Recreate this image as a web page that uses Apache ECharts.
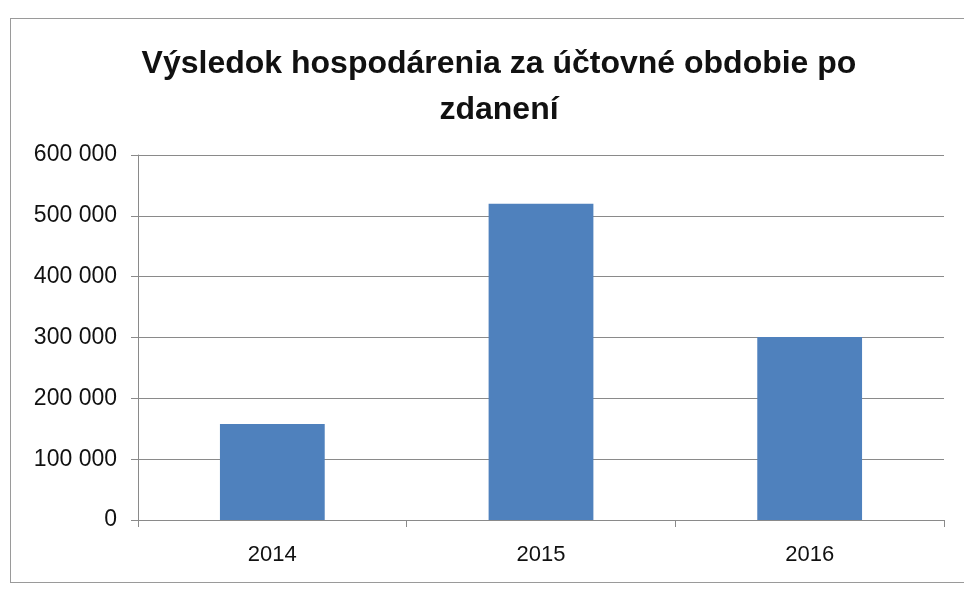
<!DOCTYPE html>
<html>
<head>
<meta charset="utf-8">
<script src="https://cdn.jsdelivr.net/npm/echarts@6/dist/echarts.min.js"></script>
<style>
html,body{margin:0;padding:0;background:#fff;width:964px;height:593px;overflow:hidden;}
#frame{position:absolute;left:10px;top:18px;width:980px;height:565px;border:1px solid #9a9a9a;box-sizing:border-box;}
#chart{position:absolute;left:0;top:0;width:964px;height:593px;}
</style>
</head>
<body>
<div id="frame"></div>
<div id="chart"></div>
<script>
const titleText = "Výsledok hospodárenia za účtovné obdobie po\nzdanení";
const categories = ["2014", "2015", "2016"];
const values = [158000, 520000, 301000];
const yMin = 0, yMax = 600000, yStep = 100000;

const chart = echarts.init(document.getElementById('chart'));
chart.setOption({
  backgroundColor: 'transparent',
  animation: false,
  title: {
    text: titleText,
    left: 494, top: 36, textAlign: 'center',
    textStyle: {fontFamily: 'Liberation Sans', fontWeight: 'bold', fontSize: 32, color: '#111', lineHeight: 46}
  },
  grid: {left: 138, right: 20, top: 155, bottom: 73, containLabel: false},
  xAxis: {
    type: 'category', data: categories, boundaryGap: true,
    axisLine: {show: true, lineStyle: {color: '#8a8a8a', width: 1}},
    axisTick: {show: true, alignWithLabel: false, length: 7, inside: false, lineStyle: {color: '#8a8a8a'}},
    axisLabel: {margin: 24, fontFamily: 'Liberation Sans', fontSize: 22, color: '#111'}
  },
  yAxis: {
    type: 'value', min: yMin, max: yMax, interval: yStep,
    axisLine: {show: true, lineStyle: {color: '#8a8a8a', width: 1}},
    axisTick: {show: true, length: 7, lineStyle: {color: '#8a8a8a'}},
    splitLine: {show: true, lineStyle: {color: '#8a8a8a', width: 1}},
    axisLabel: {
      margin: 21, fontFamily: 'Liberation Sans', fontSize: 23, color: '#111',
      formatter: v => String(v).replace(/\B(?=(\d{3})+(?!\d))/g, ' ')
    }
  },
  series: [{
    type: 'bar', data: values, barWidth: '39%',
    itemStyle: {color: '#4f81bd'}
  }]
});
</script>
</body>
</html>
